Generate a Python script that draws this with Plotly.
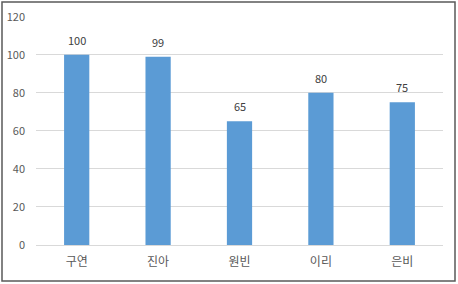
import plotly.graph_objects as go

categories = ["구연", "진아", "원빈", "이리", "은비"]
values = [100, 99, 65, 80, 75]
y_ticks = [0, 20, 40, 60, 80, 100, 120]

W, H = 458, 284
ml, mr, mt, mb = 36, 15, 16, 39
pw, ph = W - ml - mr, H - mt - mb

def px_x(p):
    return (p - ml) / pw

def px_y(p):
    return (H - mb - p) / ph

font_family = "Noto Sans CJK KR, Noto Sans, sans-serif"
txt_color = "#595959"

fig = go.Figure(
    go.Bar(
        x=categories,
        y=values,
        marker=dict(color="#5B9BD5", line=dict(width=0)),
        width=0.31,
        cliponaxis=False,
    )
)

annotations = [
    dict(
        x=c, y=v, xref="x", yref="y",
        text=str(v), showarrow=False,
        yanchor="bottom", yshift=5,
        font=dict(size=11, color="#404040", family=font_family),
    )
    for c, v in zip(categories, values)
]

fig.update_layout(
    width=W,
    height=H,
    margin=dict(l=ml, r=mr, t=mt, b=mb, autoexpand=False),
    paper_bgcolor="white",
    plot_bgcolor="white",
    showlegend=False,
    font=dict(family=font_family, color=txt_color),
    annotations=annotations,
    xaxis=dict(
        showline=False,
        showgrid=False,
        ticks="",
        automargin=False,
        tickfont=dict(size=12, color=txt_color, family=font_family),
        ticklabelstandoff=8,
    ),
    yaxis=dict(
        range=[0, 120.4],
        tickvals=y_ticks,
        showgrid=True,
        gridcolor="#D9D9D9",
        gridwidth=1,
        zeroline=True,
        zerolinecolor="#D9D9D9",
        zerolinewidth=1,
        showline=False,
        ticks="",
        automargin=False,
        tickfont=dict(size=11, color=txt_color, family=font_family),
        ticklabelstandoff=10,
    ),
    shapes=[
        dict(
            type="rect",
            xref="paper",
            yref="paper",
            x0=px_x(2),
            x1=px_x(455),
            y0=px_y(281),
            y1=px_y(2),
            line=dict(color="#5a5a5a", width=1.5),
            fillcolor="rgba(0,0,0,0)",
            layer="below",
        )
    ],
)

fig.write_html("out.html")
